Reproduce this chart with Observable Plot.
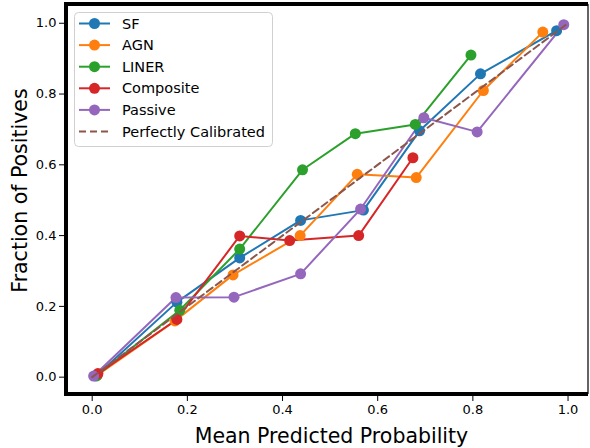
<!DOCTYPE html>
<html>
<head>
<meta charset="utf-8">
<script src="https://cdn.jsdelivr.net/npm/d3@7"></script>
<script src="https://cdn.jsdelivr.net/npm/@observablehq/plot@0.6"></script>
<style>
  html, body { margin: 0; padding: 0; background: #fff; }
  #chart { position: relative; width: 590px; height: 448px; }
</style>
</head>
<body>
<div id="chart"></div>
<script>
// ---- data ----
const seriesNames = ["SF", "AGN", "LINER", "Composite", "Passive"];
const seriesColors = ["#1f77b4", "#ff7f0e", "#2ca02c", "#d62728", "#9467bd"];

const sfX = [0.008, 0.178, 0.310, 0.438, 0.570, 0.688, 0.816, 0.976];
const sfY = [0.003, 0.212, 0.337, 0.443, 0.472, 0.696, 0.857, 0.979];

const agnX = [0.010, 0.174, 0.296, 0.437, 0.557, 0.681, 0.822, 0.947];
const agnY = [0.005, 0.159, 0.289, 0.400, 0.573, 0.564, 0.810, 0.975];

const linerX = [0.010, 0.184, 0.310, 0.442, 0.553, 0.679, 0.796];
const linerY = [0.005, 0.189, 0.362, 0.586, 0.688, 0.714, 0.910];

const compX = [0.012, 0.178, 0.310, 0.415, 0.560, 0.674];
const compY = [0.010, 0.163, 0.399, 0.386, 0.400, 0.620];

const passX = [0.003, 0.176, 0.298, 0.438, 0.564, 0.697, 0.809, 0.991];
const passY = [0.003, 0.225, 0.226, 0.292, 0.475, 0.733, 0.693, 0.996];

const calibX = [0, 1];
const calibY = [0, 1];
const calibName = "Perfectly Calibrated";
const calibColor = "#8c564b";

const xTicks = [0.0, 0.2, 0.4, 0.6, 0.8, 1.0];
const yTicks = [0.0, 0.2, 0.4, 0.6, 0.8, 1.0];
const xLabel = "Mean Predicted Probability";
const yLabel = "Fraction of Positives";

// ---- build tidy table ----
const seriesX = [sfX, agnX, linerX, compX, passX];
const seriesY = [sfY, agnY, linerY, compY, passY];
const rows = [];
seriesNames.forEach((name, i) => {
  seriesX[i].forEach((x, j) => rows.push({series: name, x, y: seriesY[i][j]}));
});
const calib = calibX.map((x, i) => ({x, y: calibY[i]}));

const xDomain = [-0.054, 1.043];
const yDomain = [-0.049, 1.053];
const font = "'DejaVu Sans', sans-serif";

const plot = Plot.plot({
  width: 590,
  height: 448,
  marginLeft: 66,
  marginRight: 2,
  marginTop: 4,
  marginBottom: 54,
  style: {fontFamily: font, fontSize: "13px", color: "#000", background: "#fff", overflow: "visible"},
  x: {domain: xDomain, ticks: xTicks, tickFormat: d3.format(".1f"), tickSize: 7, tickPadding: 3, label: null},
  y: {domain: yDomain, ticks: yTicks, tickFormat: d3.format(".1f"), tickSize: 7, tickPadding: 3, label: null},
  color: {domain: seriesNames, range: seriesColors},
  marks: [
    Plot.line(rows, {x: "x", y: "y", z: "series", stroke: "series", strokeWidth: 2}),
    Plot.dot(rows, {x: "x", y: "y", fill: "series", r: 5.5}),
    Plot.line(calib, {x: "x", y: "y", stroke: calibColor, strokeWidth: 2, strokeDasharray: "7,4"}),
    // axis labels
    Plot.text([xLabel], {frameAnchor: "bottom", lineAnchor: "middle", textAnchor: "middle", dx: 4, dy: 41.5, fontSize: 20.5, text: d => d, fill: "#000"}),
    Plot.text([yLabel], {frameAnchor: "left", lineAnchor: "middle", textAnchor: "middle", dx: -46.5, dy: -9, rotate: -90, fontSize: 20.5, text: d => d, fill: "#000"})
  ]
});
document.getElementById("chart").appendChild(plot);

const svg = d3.select(plot);
const sx = plot.scale("x"), sy = plot.scale("y");
const X0 = sx.apply(xDomain[0]), X1 = sx.apply(xDomain[1]);
const Y0 = sy.apply(yDomain[0]), Y1 = sy.apply(yDomain[1]);

// ---- spines (thick left/bottom/top, thin right) drawn as filled rects ----
const T = 4, h = T / 2;
const sp = svg.append("g").attr("fill", "#000").attr("stroke", "none");
sp.append("rect").attr("x", X1 - 0.6).attr("y", Y1).attr("width", 1.2).attr("height", Y0 - Y1);
sp.append("rect").attr("x", X0 - h).attr("y", Y1 - h).attr("width", T).attr("height", Y0 - Y1 + T);
sp.append("rect").attr("x", X0 - h).attr("y", Y0 - h).attr("width", X1 - X0 + h).attr("height", T);
sp.append("rect").attr("x", X0 - h).attr("y", Y1 - h).attr("width", X1 - X0 + h).attr("height", T);

// ---- legend (inside the svg) ----
const legendItems = seriesNames.map((n, i) => ({name: n, color: seriesColors[i], dashed: false}))
  .concat([{name: calibName, color: calibColor, dashed: true}]);
const lg = svg.append("g").attr("transform", "translate(74,12)");
lg.append("rect").attr("x", 0.5).attr("y", 0.5).attr("width", 198).attr("height", 134)
  .attr("rx", 4).attr("fill", "#fff").attr("fill-opacity", 0.85).attr("stroke", "#d0d0d0");
legendItems.forEach((d, i) => {
  const cy = 11.5 + i * 21.6;
  const g = lg.append("g").attr("transform", `translate(0,${cy})`);
  g.append("line").attr("x1", 5).attr("x2", 36).attr("y1", 0).attr("y2", 0)
    .attr("stroke", d.color).attr("stroke-width", 2)
    .attr("stroke-dasharray", d.dashed ? "7,4" : null);
  if (!d.dashed) g.append("circle").attr("cx", 20.5).attr("cy", 0).attr("r", 5.5).attr("fill", d.color);
  g.append("text").attr("x", 48).attr("y", 0).attr("dy", "0.35em").attr("text-anchor", "start")
    .attr("font-family", font).attr("font-size", 14.5).attr("fill", "#000").text(d.name);
});
</script>
</body>
</html>
